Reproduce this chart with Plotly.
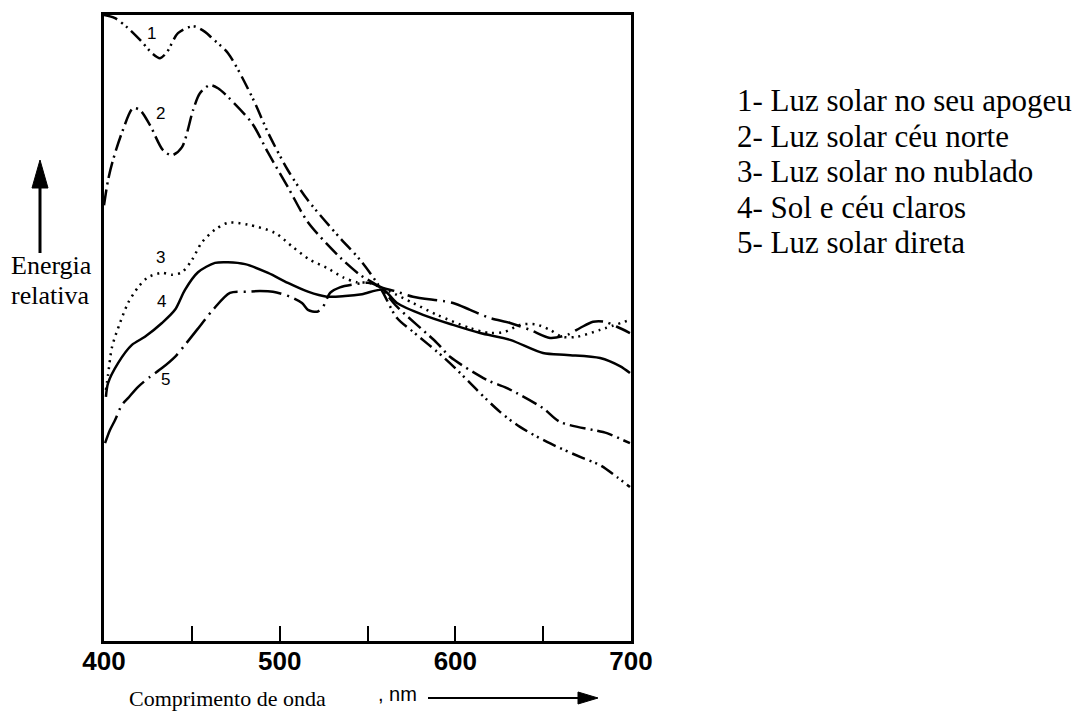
import plotly.graph_objects as go

# ---------------- data (wavelength nm, relative energy 0-100) ----------------
wl_1 = [400.0, 406.3, 413.7, 421.6, 427.3, 431.9, 435.9, 442.1, 450.7, 457.5, 461.5, 470.6,
        484.3, 493.4, 504.7, 516.1, 534.3, 545.7, 557.1, 566.8, 575.9, 593.0, 601.0, 612.3,
        625.4, 636.8, 652.2, 672.7, 682.4, 692.0, 699.4]
en_1 = [100.0, 99.5, 97.9, 95.7, 93.9, 93.1, 94.1, 97.1, 98.2, 97.3, 96.3, 93.9,
        86.9, 81.2, 75.2, 70.4, 64.4, 60.9, 56.5, 51.6, 49.4, 45.4, 43.3, 40.1,
        36.6, 34.2, 31.8, 29.2, 28.1, 26.2, 24.6]

wl_2 = [400.0, 402.3, 405.1, 410.2, 416.5, 420.5, 426.2, 433.6, 438.7, 444.4, 450.7, 454.6,
        460.3, 464.9, 470.6, 484.3, 493.4, 504.7, 516.1, 534.3, 545.7, 557.1, 566.8, 589.6,
        597.0, 618.0, 629.4, 649.9, 659.6, 686.3, 695.4, 699.4]
en_2 = [69.6, 73.6, 76.8, 81.2, 85.1, 84.8, 82.4, 78.4, 77.6, 78.9, 84.8, 87.5,
        88.8, 88.3, 86.9, 82.7, 78.0, 72.5, 66.9, 61.3, 58.5, 56.5, 53.4, 47.6,
        45.4, 41.7, 40.4, 37.2, 35.0, 33.2, 32.1, 31.6]

wl_3 = [401.1, 402.3, 404.6, 409.1, 413.7, 419.4, 425.0, 433.0, 438.7, 444.4, 450.1, 455.8,
        463.2, 470.6, 482.0, 497.3, 507.6, 517.3, 526.9, 536.1, 544.0, 551.4, 557.1, 562.8,
        575.9, 589.6, 608.3, 619.7, 628.3, 636.8, 645.4, 653.9, 660.7, 669.3, 682.4, 699.4]
en_3 = [40.1, 42.5, 47.0, 50.8, 54.0, 56.5, 58.1, 58.8, 58.5, 58.9, 60.9, 63.7,
        65.7, 66.8, 66.5, 65.2, 62.9, 60.9, 59.6, 58.1, 57.3, 57.2, 56.5, 55.8,
        54.0, 52.1, 50.0, 49.2, 49.4, 50.5, 50.6, 49.7, 48.6, 48.6, 49.7, 51.3]

wl_4 = [401.1, 402.3, 408.0, 415.9, 423.3, 433.0, 440.4, 446.1, 453.5, 463.2, 470.6, 480.3,
        493.4, 504.7, 516.1, 526.9, 537.2, 546.9, 558.8, 566.8, 581.6, 598.7, 614.1, 631.2,
        649.9, 663.6, 682.4, 693.7, 699.4]
en_4 = [39.0, 41.2, 44.4, 47.3, 48.6, 50.8, 52.9, 56.1, 58.9, 60.4, 60.5, 60.2,
        58.8, 57.2, 55.8, 55.0, 55.1, 55.4, 56.1, 54.0, 52.1, 50.5, 49.2, 48.1,
        46.0, 45.7, 45.2, 43.9, 42.8]

wl_5 = [400.6, 403.4, 406.3, 410.2, 413.7, 419.4, 426.2, 433.0, 440.4, 446.1, 452.9, 462.0,
        471.7, 481.4, 488.8, 496.2, 505.9, 512.7, 516.1, 521.3, 524.7, 528.7, 534.3, 542.9,
        551.4, 558.8, 565.7, 575.9, 598.7, 608.4, 619.7, 631.2, 642.5, 653.9, 663.6, 671.0,
        678.4, 685.2, 692.0, 699.4]
en_5 = [31.6, 33.7, 35.3, 37.7, 38.8, 40.6, 42.2, 43.6, 45.4, 47.3, 49.7, 52.9,
        55.6, 55.8, 55.9, 55.8, 55.0, 54.0, 52.9, 52.6, 53.4, 55.6, 56.5, 57.0,
        57.2, 56.4, 55.9, 55.0, 54.0, 52.9, 51.6, 50.8, 49.7, 48.4, 48.9, 50.0,
        51.0, 51.0, 50.2, 49.2]

curve_ids = ["1", "2", "3", "4", "5"]
label_wl = [427.3, 431.9, 431.9, 432.5, 434.8]
label_en = [97.1, 84.3, 61.2, 54.2, 41.7]

legend_lines = ["1- Luz solar no seu apogeu",
                "2- Luz solar céu norte",
                "3- Luz solar no nublado",
                "4- Sol e céu claros",
                "5- Luz solar direta"]

tick_vals = [400, 450, 500, 550, 600, 650, 700]
tick_text = ["400", "", "500", "", "600", "", "700"]

# ---------------- layout geometry ----------------
W, H = 1080, 717
L, R, T, B = 104, 631, 15, 641


def px(xp):
    return (xp - L) / (R - L)


def py(yp):
    return (B - yp) / (B - T)


series = [
    (wl_1, en_1, "14px,5px,2px,4px,2px,5px"),
    (wl_2, en_2, "16px,5px,2px,5px"),
    (wl_3, en_3, "2px,5px"),
    (wl_4, en_4, "solid"),
    (wl_5, en_5, "30px,6px,2px,6px"),
]

fig = go.Figure()
for (xs, ys, dash), name in zip(series, curve_ids):
    fig.add_trace(go.Scatter(
        x=xs, y=ys, mode="lines", name=name,
        line=dict(color="black", width=2.5, dash=dash, shape="spline", smoothing=0.8),
        hoverinfo="skip", showlegend=False))

annotations = []
for t, xv, yv in zip(curve_ids, label_wl, label_en):
    annotations.append(dict(x=xv, y=yv, xref="x", yref="y", text=t, showarrow=False,
                            font=dict(family="Liberation Sans, Arial", size=17, color="black")))

legend_y = [100, 136, 171, 207, 243]
for t, yp in zip(legend_lines, legend_y):
    annotations.append(dict(x=px(735), y=py(yp), xref="paper", yref="paper", text=t,
                            showarrow=False, xanchor="left", yanchor="middle",
                            font=dict(family="Liberation Serif, Times New Roman", size=31,
                                      color="black")))

annotations.append(dict(x=px(51), y=py(265), xref="paper", yref="paper", text="Energia",
                        showarrow=False, xanchor="center", yanchor="middle",
                        font=dict(family="Liberation Serif, Times New Roman", size=26, color="black")))
annotations.append(dict(x=px(50), y=py(295), xref="paper", yref="paper", text="relativa",
                        showarrow=False, xanchor="center", yanchor="middle",
                        font=dict(family="Liberation Serif, Times New Roman", size=26, color="black")))
annotations.append(dict(x=px(227), y=py(698), xref="paper", yref="paper",
                        text="Comprimento de onda", showarrow=False, xanchor="center",
                        yanchor="middle",
                        font=dict(family="Liberation Serif, Times New Roman", size=22, color="black")))
annotations.append(dict(x=px(376), y=py(694), xref="paper", yref="paper", text=", nm",
                        showarrow=False, xanchor="left", yanchor="middle",
                        font=dict(family="Liberation Sans, Arial", size=20, color="black")))

shapes = [
    # vertical arrow (Energia relativa)
    dict(type="line", xref="paper", yref="paper", x0=px(40), x1=px(40), y0=py(253), y1=py(185),
         line=dict(color="black", width=3)),
    dict(type="path", xref="paper", yref="paper",
         path=f"M {px(40)} {py(160)} L {px(32)} {py(188)} L {px(48)} {py(188)} Z",
         fillcolor="black", line=dict(color="black", width=1)),
    # horizontal arrow (nm)
    dict(type="line", xref="paper", yref="paper", x0=px(428), x1=px(582), y0=py(698), y1=py(698),
         line=dict(color="black", width=2)),
    dict(type="path", xref="paper", yref="paper",
         path=f"M {px(598)} {py(698)} L {px(578)} {py(692)} L {px(578)} {py(704)} Z",
         fillcolor="black", line=dict(color="black", width=1)),
]

fig.update_layout(
    width=W, height=H,
    margin=dict(l=L, r=W - R, t=T, b=H - B, pad=0),
    paper_bgcolor="white", plot_bgcolor="white",
    showlegend=False,
    annotations=annotations,
    shapes=shapes,
    xaxis=dict(range=[400, 700], tickvals=tick_vals, ticktext=tick_text,
               ticks="inside", ticklen=15, tickwidth=2, tickcolor="black",
               ticklabelstandoff=-5,
               showline=True, linecolor="black", linewidth=3, mirror=True,
               showgrid=False, zeroline=False,
               tickfont=dict(family="Liberation Sans, Arial", size=26, color="black",
                             weight="bold")),
    yaxis=dict(range=[0, 100], showticklabels=False, ticks="",
               showline=True, linecolor="black", linewidth=3, mirror=True,
               showgrid=False, zeroline=False),
)

fig.write_html("out.html")
